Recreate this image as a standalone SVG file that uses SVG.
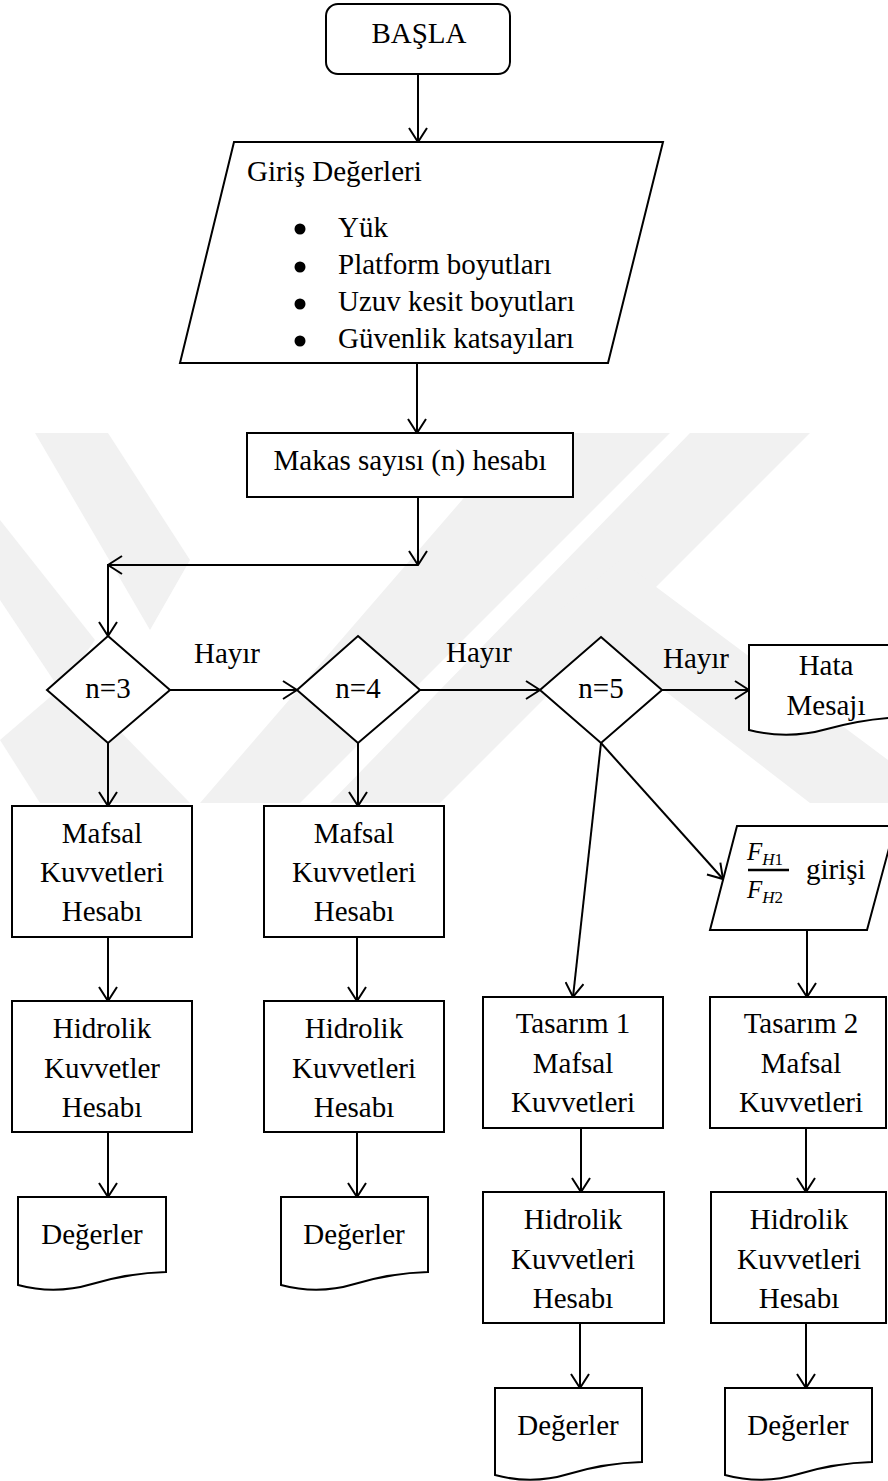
<svg xmlns="http://www.w3.org/2000/svg" width="888" height="1481" viewBox="0 0 888 1481" font-family="Liberation Serif, Times New Roman, serif">
<defs>
<style>
.shape{fill:#fff;stroke:#000;stroke-width:2;stroke-linejoin:miter}
.ln{fill:none;stroke:#000;stroke-width:2}
.t{font-family:'Liberation Serif','Times New Roman',serif;font-size:29px;fill:#000}
.c{text-anchor:middle}
.wm{fill:#f1f1f1;stroke:none}
</style>
<marker id="arr" viewBox="0 0 16 20" markerWidth="16" markerHeight="20" refX="15" refY="10" orient="auto" markerUnits="userSpaceOnUse">
<path d="M1,1 L15,10 L1,19" fill="none" stroke="#000" stroke-width="2"/>
</marker>
</defs>
<rect width="888" height="1481" fill="#fff"/>
<g id="watermark">
<polygon class="wm" points="35,433 108,433 190,560 150,630 118,575"/>
<polygon class="wm" points="0,520 0,600 60,690 95,640"/>
<polygon class="wm" points="520,433 670,433 300,803 200,803"/>
<polygon class="wm" points="690,433 810,433 440,803 330,803"/>
<polygon class="wm" points="560,610 620,560 888,760 888,803 810,803"/>
<polygon class="wm" points="0,740 70,680 190,803 40,803"/>
</g>
<g id="connectors">
<line class="ln" x1="418" y1="74" x2="418" y2="142" marker-end="url(#arr)"/>
<line class="ln" x1="417" y1="363" x2="417" y2="433" marker-end="url(#arr)"/>
<line class="ln" x1="418" y1="497" x2="418" y2="565" marker-end="url(#arr)"/>
<line class="ln" x1="418" y1="565" x2="108" y2="565" marker-end="url(#arr)"/>
<line class="ln" x1="108" y1="564" x2="108" y2="636" marker-end="url(#arr)"/>
<line class="ln" x1="170" y1="690" x2="297" y2="690" marker-end="url(#arr)"/>
<line class="ln" x1="420" y1="690" x2="540" y2="690" marker-end="url(#arr)"/>
<line class="ln" x1="662" y1="690" x2="749" y2="690" marker-end="url(#arr)"/>
<line class="ln" x1="108" y1="743" x2="108" y2="806" marker-end="url(#arr)"/>
<line class="ln" x1="358" y1="743" x2="358" y2="806" marker-end="url(#arr)"/>
<line class="ln" x1="108" y1="937" x2="108" y2="1001" marker-end="url(#arr)"/>
<line class="ln" x1="357" y1="937" x2="357" y2="1001" marker-end="url(#arr)"/>
<line class="ln" x1="108" y1="1132" x2="108" y2="1197" marker-end="url(#arr)"/>
<line class="ln" x1="357" y1="1132" x2="357" y2="1197" marker-end="url(#arr)"/>
<line class="ln" x1="601" y1="743" x2="573" y2="997" marker-end="url(#arr)"/>
<line class="ln" x1="601" y1="743" x2="723" y2="879" marker-end="url(#arr)"/>
<line class="ln" x1="807" y1="930" x2="807" y2="997" marker-end="url(#arr)"/>
<line class="ln" x1="581" y1="1128" x2="581" y2="1192" marker-end="url(#arr)"/>
<line class="ln" x1="806" y1="1128" x2="806" y2="1192" marker-end="url(#arr)"/>
<line class="ln" x1="580" y1="1323" x2="580" y2="1388" marker-end="url(#arr)"/>
<line class="ln" x1="806" y1="1323" x2="806" y2="1388" marker-end="url(#arr)"/>
<text class="t c" x="227" y="663">Hayır</text>
<text class="t c" x="479" y="662">Hayır</text>
<text class="t c" x="696" y="668">Hayır</text>
</g>
<g id="basla">
<rect class="shape" x="326" y="4" width="184" height="70" rx="12"/>
<text class="t c" x="419" y="43">BAŞLA</text>
</g>
<g id="giris">
<polygon class="shape" points="234,142 663,142 608,363 180,363"/>
<text class="t" x="247" y="181">Giriş Değerleri</text>
<circle cx="300" cy="229" r="5.5"/>
<circle cx="300" cy="267" r="5.5"/>
<circle cx="300" cy="304" r="5.5"/>
<circle cx="300" cy="341" r="5.5"/>
<text class="t" x="338" y="237">Yük</text>
<text class="t" x="338" y="274">Platform boyutları</text>
<text class="t" x="338" y="311">Uzuv kesit boyutları</text>
<text class="t" x="338" y="348">Güvenlik katsayıları</text>
</g>
<g id="makas">
<rect class="shape" x="247" y="433" width="326" height="64"/>
<text class="t c" x="410" y="470">Makas sayısı (n) hesabı</text>
</g>
<g id="n3">
<polygon class="shape" points="108,636 170,690 108,743 47,690"/>
<text class="t c" x="108" y="698">n=3</text>
</g>
<g id="n4">
<polygon class="shape" points="358,636 420,690 358,743 297,690"/>
<text class="t c" x="358" y="698">n=4</text>
</g>
<g id="n5">
<polygon class="shape" points="601,637 662,690 601,743 540,690"/>
<text class="t c" x="601" y="698">n=5</text>
</g>
<g id="hata">
<path class="shape" d="M749,645 H905 V717 Q866,718 827,729 Q788,740 749,730 Z"/>
<text class="t c" x="826" y="675">Hata</text>
<text class="t c" x="826" y="715">Mesajı</text>
</g>
<g id="mafsal3">
<rect class="shape" x="12" y="806" width="180" height="131"/>
<text class="t c" x="102" y="843">Mafsal</text>
<text class="t c" x="102" y="882">Kuvvetleri</text>
<text class="t c" x="102" y="921">Hesabı</text>
</g>
<g id="mafsal4">
<rect class="shape" x="264" y="806" width="180" height="131"/>
<text class="t c" x="354" y="843">Mafsal</text>
<text class="t c" x="354" y="882">Kuvvetleri</text>
<text class="t c" x="354" y="921">Hesabı</text>
</g>
<g id="hidrolik3">
<rect class="shape" x="12" y="1001" width="180" height="131"/>
<text class="t c" x="102" y="1038">Hidrolik</text>
<text class="t c" x="102" y="1078">Kuvvetler</text>
<text class="t c" x="102" y="1117">Hesabı</text>
</g>
<g id="hidrolik4">
<rect class="shape" x="264" y="1001" width="180" height="131"/>
<text class="t c" x="354" y="1038">Hidrolik</text>
<text class="t c" x="354" y="1078">Kuvvetleri</text>
<text class="t c" x="354" y="1117">Hesabı</text>
</g>
<g id="degerler3">
<path class="shape" d="M18,1197 H166 V1272 Q129,1273 92,1284 Q55,1295 18,1285 Z"/>
<text class="t c" x="92" y="1244">Değerler</text>
</g>
<g id="degerler4">
<path class="shape" d="M281,1197 H428 V1272 Q391,1273 354.5,1284 Q318,1295 281,1285 Z"/>
<text class="t c" x="354" y="1244">Değerler</text>
</g>
<g id="fgiris">
<polygon class="shape" points="737,826 895,826 867,930 710,930"/>
<text x="747" y="860" font-family="Liberation Serif, serif" font-size="25" font-style="italic">F<tspan font-size="17" dy="5">H</tspan><tspan font-size="17" font-style="normal">1</tspan></text>
<line x1="748" y1="870" x2="789" y2="870" stroke="#000" stroke-width="2.5"/>
<text x="747" y="898" font-family="Liberation Serif, serif" font-size="25" font-style="italic">F<tspan font-size="17" dy="5">H</tspan><tspan font-size="17" font-style="normal">2</tspan></text>
<text class="t" x="806" y="879">girişi</text>
</g>
<g id="tasarim1">
<rect class="shape" x="483" y="997" width="180" height="131"/>
<text class="t c" x="573" y="1033">Tasarım 1</text>
<text class="t c" x="573" y="1073">Mafsal</text>
<text class="t c" x="573" y="1112">Kuvvetleri</text>
</g>
<g id="tasarim2">
<rect class="shape" x="710" y="997" width="176" height="131"/>
<text class="t c" x="801" y="1033">Tasarım 2</text>
<text class="t c" x="801" y="1073">Mafsal</text>
<text class="t c" x="801" y="1112">Kuvvetleri</text>
</g>
<g id="hidrolik5a">
<rect class="shape" x="483" y="1192" width="181" height="131"/>
<text class="t c" x="573" y="1229">Hidrolik</text>
<text class="t c" x="573" y="1269">Kuvvetleri</text>
<text class="t c" x="573" y="1308">Hesabı</text>
</g>
<g id="hidrolik5b">
<rect class="shape" x="711" y="1192" width="175" height="131"/>
<text class="t c" x="799" y="1229">Hidrolik</text>
<text class="t c" x="799" y="1269">Kuvvetleri</text>
<text class="t c" x="799" y="1308">Hesabı</text>
</g>
<g id="degerler5a">
<path class="shape" d="M495,1388 H642 V1462 Q605,1463 568.5,1474 Q532,1485 495,1475 Z"/>
<text class="t c" x="568" y="1435">Değerler</text>
</g>
<g id="degerler5b">
<path class="shape" d="M725,1388 H872 V1462 Q835,1463 798.5,1474 Q762,1485 725,1475 Z"/>
<text class="t c" x="798" y="1435">Değerler</text>
</g>
</svg>
